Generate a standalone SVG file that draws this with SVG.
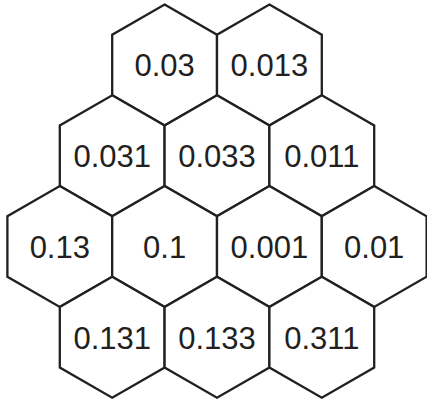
<svg xmlns="http://www.w3.org/2000/svg" xmlns:xlink="http://www.w3.org/1999/xlink" width="427" height="400" viewBox="0 0 427 400">
<style>
.hex{fill:#fff;stroke:#231f20;stroke-width:2.3;stroke-linejoin:miter}
.lbl{font-family:"Liberation Sans",Arial,Helvetica,sans-serif;font-size:31px;fill:#231f20;text-anchor:middle}
</style>
<defs>
<polygon id="h" points="0,-60.5 52.4,-30.25 52.4,30.25 0,60.5 -52.4,30.25 -52.4,-30.25"/>
</defs>
<rect width="427" height="400" fill="#fff"/>
<g id="n1" transform="translate(164.6,65)"><use href="#h" class="hex"/><text class="lbl" y="11.3">0.03</text></g>
<g id="n2" transform="translate(269.4,65)"><use href="#h" class="hex"/><text class="lbl" y="11.3">0.013</text></g>
<g id="n3" transform="translate(112.2,155.75)"><use href="#h" class="hex"/><text class="lbl" y="11.3">0.031</text></g>
<g id="n4" transform="translate(217,155.75)"><use href="#h" class="hex"/><text class="lbl" y="11.3">0.033</text></g>
<g id="n5" transform="translate(321.8,155.75)"><use href="#h" class="hex"/><text class="lbl" y="11.3">0.011</text></g>
<g id="n6" transform="translate(59.8,246.5)"><use href="#h" class="hex"/><text class="lbl" y="11.3">0.13</text></g>
<g id="n7" transform="translate(164.6,246.5)"><use href="#h" class="hex"/><text class="lbl" y="11.3">0.1</text></g>
<g id="n8" transform="translate(269.4,246.5)"><use href="#h" class="hex"/><text class="lbl" y="11.3">0.001</text></g>
<g id="n9" transform="translate(374.2,246.5)"><use href="#h" class="hex"/><text class="lbl" y="11.3">0.01</text></g>
<g id="n10" transform="translate(112.2,337.25)"><use href="#h" class="hex"/><text class="lbl" y="11.3">0.131</text></g>
<g id="n11" transform="translate(217,337.25)"><use href="#h" class="hex"/><text class="lbl" y="11.3">0.133</text></g>
<g id="n12" transform="translate(321.8,337.25)"><use href="#h" class="hex"/><text class="lbl" y="11.3">0.311</text></g>
<g id="connectors"></g>
</svg>
